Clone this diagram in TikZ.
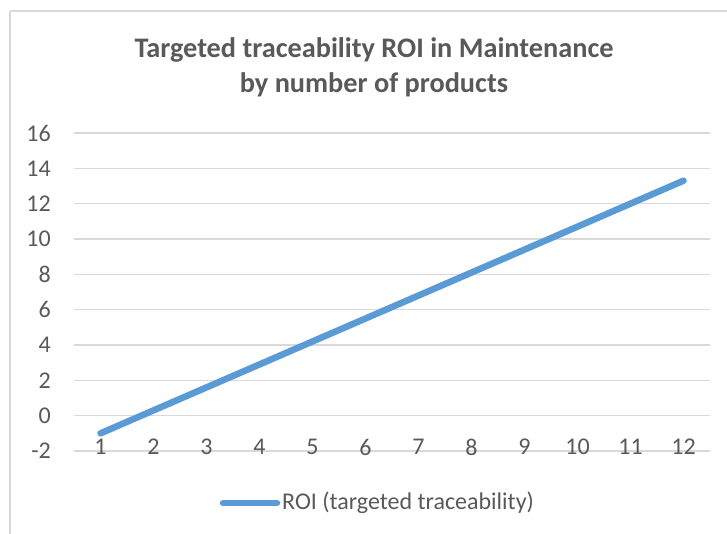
\documentclass[tikz,border=0pt]{standalone}
\usepackage{fontspec}
\setmainfont{Carlito}
\definecolor{txt}{HTML}{595959}
\definecolor{grid}{HTML}{D9D9D9}
\definecolor{series}{HTML}{5B9BD5}
\tikzset{
  gridline/.style={draw=grid, line width=1.5pt},
  ylab/.style={anchor=east, text=txt, font=\fontsize{24}{28}\selectfont, inner sep=0pt},
  xlab/.style={anchor=center, text=txt, font=\fontsize{24}{28}\selectfont, inner sep=0pt},
  titletxt/.style={text=txt, font=\bfseries\fontsize{28.3}{35}\selectfont, align=center, inner sep=0pt},
  seriesline/.style={draw=series, line width=6.5pt, line cap=round, line join=round},
}
\begin{document}
\begin{tikzpicture}[x=1pt,y=-1pt]
\useasboundingbox (0,0) rectangle (727,533);
\fill[white] (0,0) rectangle (727,533);
% chart border
\draw[draw=grid, line width=1.5pt] (10,11) -- (740,11);
\draw[draw=grid, line width=1.5pt] (10,11) -- (10,545);
% title
\node[titletxt] (title) at (374,67) {Targeted traceability ROI in Maintenance\\by number of products};
% gridlines and y labels
\foreach \v [count=\i from 0] in {-2,0,...,16} {
  \coordinate (gl\i) at (74,{451-\i*35.33});
  \coordinate (gr\i) at (710,{451-\i*35.33});
  \draw[gridline] (gl\i) -- (gr\i);
  \node[ylab] (yl\i) at (51,{451-\i*35.33}) {\v};
}
% x labels
\foreach \k in {1,...,12} {
  \node[xlab] (xl\k) at ({74+53*(\k-0.5)},447) {\k};
}
% data points
\foreach \k in {1,...,12} {
  \coordinate (p\k) at ({74+53*(\k-0.5)},{451-(-1+1.3*(\k-1)+2)*17.667});
}
\draw[seriesline] (p1) -- (p2) -- (p3) -- (p4) -- (p5) -- (p6) -- (p7) -- (p8) -- (p9) -- (p10) -- (p11) -- (p12);
% legend
\coordinate (lega) at (223,503);
\coordinate (legb) at (277,503);
\draw[seriesline] (lega) -- (legb);
\node[anchor=west, text=txt, font=\fontsize{24}{28}\selectfont, inner sep=0pt] (legtext) at (282,503) {ROI (targeted traceability)};
\end{tikzpicture}
\end{document}
